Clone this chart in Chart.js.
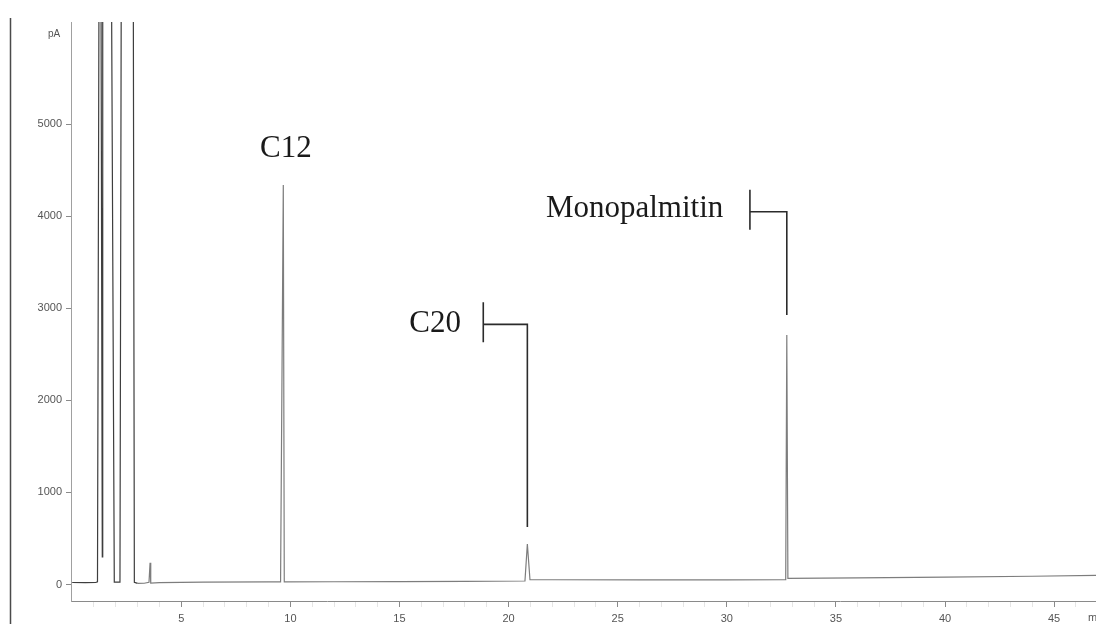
<!DOCTYPE html>
<html>
<head>
<meta charset="utf-8">
<title>GC chromatogram</title>
<script src="https://cdn.jsdelivr.net/npm/chart.js@4.4.1/dist/chart.umd.min.js"></script>
<style>
  html, body { margin: 0; padding: 0; background: #ffffff; }
  #wrap { width: 1096px; height: 624px; position: relative; overflow: hidden; }
</style>
</head>
<body>
<div id="wrap"><canvas id="gc" width="1096" height="624"></canvas></div>
<script>
// Retention time (min) and detector signal (pA) of the FID trace
const retentionTimes = [
  0.00, 0.60, 1.08, 1.16, 1.23, 1.32, 1.38, 1.40, 1.80, 1.93,
  2.19, 2.25, 2.80, 2.85, 3.00, 3.30, 3.52, 3.57, 3.60, 4.00,
  6.00, 9.00, 9.55, 9.675, 9.72, 12.00, 15.00, 18.00, 20.75, 20.86,
  20.98, 22.00, 26.00, 30.00, 32.70, 32.75, 32.80, 36.00, 40.00, 44.00,
  46.92
];
const signalPA = [
  22, 20, 22, 30, 6600, 6600, 300, 6600, 6600, 25,
  25, 6600, 6600, 25, 12, 14, 25, 235, 15, 20,
  25, 28, 28, 4338, 28, 30, 32, 35, 38, 440,
  52, 52, 50, 50, 52, 2709, 66, 72, 80, 90,
  100
];

// Labelled components
const peakNames = ['C12', 'C20', 'Monopalmitin'];
const peakTimes = [9.675, 20.86, 32.75];

// Axis ticks
const timeTicks = [5, 10, 15, 20, 25, 30, 35, 40, 45];
const signalTicks = [0, 1000, 2000, 3000, 4000, 5000];

const tickFont = { family: "'Liberation Sans', Arial, sans-serif", size: 11 };

// Peak captions: C12 sits above its peak, the others use a bracket leader
const captionPlugin = {
  id: 'captions',
  afterDatasetsDraw(chart, args, opts) {
    const ctx = chart.ctx;
    const xs = chart.scales.x, ys = chart.scales.y;
    ctx.save();
    ctx.fillStyle = '#1a1a1a';
    ctx.strokeStyle = '#2b2b2b';
    ctx.lineWidth = 1.6;
    ctx.font = "31px 'Liberation Serif', 'Times New Roman', serif";
    ctx.textBaseline = 'alphabetic';
    opts.items.forEach(item => {
      const name = peakNames[item.peak];
      const px = xs.getPixelForValue(peakTimes[item.peak]);
      if (!item.bracket) {
        ctx.textAlign = 'center';
        ctx.fillText(name, xs.getPixelForValue(item.textT), ys.getPixelForValue(item.textV));
        return;
      }
      const lineY = ys.getPixelForValue(item.lineV);
      const tickX = xs.getPixelForValue(item.tickT);
      ctx.textAlign = 'right';
      ctx.fillText(name, xs.getPixelForValue(item.textT), ys.getPixelForValue(item.textV));
      ctx.beginPath();
      ctx.moveTo(tickX, lineY - 22);
      ctx.lineTo(tickX, lineY + 18);
      ctx.moveTo(tickX, lineY);
      ctx.lineTo(px, lineY);
      ctx.lineTo(px, ys.getPixelForValue(item.stopV));
      ctx.stroke();
    });
    ctx.restore();
  },
  afterDraw(chart) {
    const ctx = chart.ctx;
    ctx.save();
    // left page edge rule
    ctx.strokeStyle = '#4a4a4a';
    ctx.lineWidth = 1.5;
    ctx.beginPath();
    ctx.moveTo(10.5, 18);
    ctx.lineTo(10.5, 624);
    ctx.stroke();
    // unit labels
    ctx.fillStyle = '#555';
    ctx.font = "10px 'Liberation Sans', Arial, sans-serif";
    ctx.textAlign = 'left';
    ctx.textBaseline = 'middle';
    ctx.fillText('pA', 48, 34);
    ctx.font = "11px 'Liberation Sans', Arial, sans-serif";
    ctx.fillText('min', 1088, 618);
    ctx.restore();
  }
};

const points = retentionTimes.map((t, i) => ({ x: t, y: signalPA[i] }));

new Chart(document.getElementById('gc'), {
  type: 'line',
  data: {
    datasets: [{
      data: points,
      borderColor: '#7d7d7d',
      borderWidth: 1.2,
      pointRadius: 0,
      tension: 0,
      segment: {
        borderColor: c => (c.p0.parsed.x < 3 ? '#3e3e3e' : '#7d7d7d')
      }
    }]
  },
  options: {
    responsive: false,
    animation: false,
    events: [],
    layout: { padding: { top: 22, left: 0, right: 0, bottom: 0 } },
    plugins: {
      legend: { display: false },
      tooltip: { enabled: false },
      captions: {
        items: [
          { peak: 0, bracket: false, textT: 9.79, textV: 4645 },
          { peak: 1, bracket: true, textT: 17.82, textV: 2745, tickT: 18.84, lineV: 2825, stopV: 624 },
          { peak: 2, bracket: true, textT: 29.84, textV: 3987, tickT: 31.06, lineV: 4048, stopV: 2926 }
        ]
      }
    },
    scales: {
      x: {
        type: 'linear',
        min: -0.054,
        max: 46.92,
        afterBuildTicks: s => {
          const t = [];
          for (let v = 1; v <= 46; v++) t.push({ value: v });
          s.ticks = t;
        },
        afterFit: s => { s.height = 23; },
        border: { display: true, color: '#8a8a8a', width: 1 },
        grid: {
          drawOnChartArea: false,
          drawTicks: true,
          tickLength: 6,
          tickWidth: 1,
          tickColor: c => (timeTicks.includes(c.tick && c.tick.value) ? '#8a8a8a' : 'rgba(150,150,150,0.25)')
        },
        ticks: {
          autoSkip: false,
          maxRotation: 0,
          padding: 5,
          color: '#555',
          font: tickFont,
          callback: v => (timeTicks.includes(v) ? String(v) : '')
        }
      },
      y: {
        type: 'linear',
        min: -179,
        max: 6108,
        afterBuildTicks: s => { s.ticks = signalTicks.map(v => ({ value: v })); },
        afterFit: s => { s.width = 71; },
        border: { display: true, color: '#a0a0a0', width: 1 },
        grid: {
          drawOnChartArea: false,
          drawTicks: true,
          tickLength: 5,
          tickColor: '#8a8a8a'
        },
        ticks: {
          padding: 4,
          color: '#555',
          font: tickFont,
          callback: v => String(v)
        }
      }
    }
  },
  plugins: [captionPlugin]
});
</script>
</body>
</html>
